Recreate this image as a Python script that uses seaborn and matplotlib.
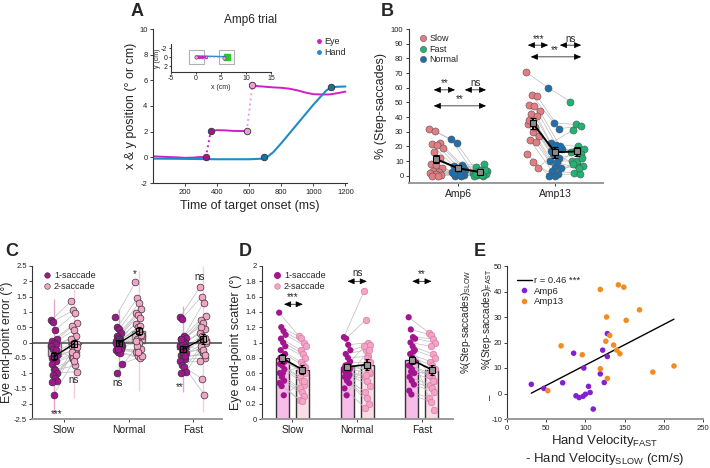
import matplotlib
matplotlib.use("Agg")
import matplotlib.pyplot as plt
from matplotlib.lines import Line2D
from matplotlib.patches import Rectangle
import numpy as np
import pandas as pd
import seaborn as sns

# ---------------- data ----------------
# A: one Amp6 trial (time in ms, position in deg / cm)
eye_t1 = [0, 50, 100, 150, 200, 250, 300, 330]
eye_y1 = [0.08, 0.05, 0.02, 0.0, -0.04, -0.02, 0.03, 0.0]
eye_t2 = [360, 400, 450, 500, 550, 585]
eye_y2 = [2.05, 2.12, 2.1, 2.06, 2.05, 2.05]
eye_t3 = [620, 650, 700, 750, 800, 850, 900, 950, 1000, 1050, 1100, 1150, 1200]
eye_y3 = [5.6, 5.55, 5.5, 5.45, 5.42, 5.35, 5.22, 5.05, 4.92, 4.9, 4.9, 5.0, 5.12]
hand_t = [0, 200, 400, 600, 690, 720, 750, 800, 900, 1000, 1080, 1110, 1150, 1200]
hand_y = [-0.1, -0.12, -0.15, -0.15, -0.1, 0.1, 0.4, 1.1, 2.6, 4.1, 5.2, 5.45, 5.5, 5.52]
hand_event_t = [690, 1110]
hand_event_y = [0.0, 5.45]

inset_eye_x = [0, 0.6, 1.2, 2.0]
inset_eye_y = [0, 0.05, 0.0, 0.05]
inset_jump_x = [2.0, 5.6]
inset_jump_y = [0.05, 0.1]
inset_hand_x = [0, 6]
inset_hand_y = [-0.25, -0.1]
inset_box_x = [0, 6]

# B: % step-saccades per subject
amp_groups = ["Amp6", "Amp13"]
slow6 = [32, 30.5, 22, 21.5, 21, 19, 16, 12, 8, 7.5, 5, 3, 2.5, 2, 1, 0.5, 0, 0]
normal6 = [25, 22, 7, 6.5, 5, 4, 3, 2, 1.5, 1, 0.5, 0, 0, 2.5, 4.5, 6, 1, 0.5]
fast6 = [2, 1, 8, 6, 4, 3.5, 3, 2.5, 2, 1.5, 1, 0.5, 0, 0, 3, 4, 1, 0.5]
slow13 = [70.5, 55, 54, 48, 47.5, 44, 42, 41, 35, 30, 27, 24, 23, 15, 9, 5, 38, 33]
normal13 = [60, 36, 32, 22, 21, 18, 15, 12, 10, 6, 5, 3, 1, 0, 0, 20, 17, 9]
fast13 = [50.5, 35, 34, 31, 20, 18, 17, 15, 10, 7, 6.5, 2, 1, 16, 10, 12, 8, 5]

# C: eye end-point error (deg)
conditions = ["Slow", "Normal", "Fast"]
err_slow1 = [0.72, 0.68, 0.4, 0.1, 0.05, 0.0, -0.05, -0.1, -0.2, -0.3, -0.4, -0.5,
             -0.55, -0.6, -0.7, -0.85, -0.9, -1.0, -1.05, -1.15, -1.25, -1.3, -1.7, -0.25]
err_slow2 = [1.35, 1.05, 0.95, 0.65, 0.55, 0.4, 0.2, 0.1, -0.5, 0.0, -0.05, -0.1,
             -0.2, -0.3, -0.45, -0.55, -0.75, -0.95, -0.5, -0.35, -0.15, -0.3, -0.6, -0.4]
err_norm1 = [0.82, 0.5, 0.45, 0.3, 0.2, 0.15, 0.1, 0.05, 0.0, -0.05, -0.1, -0.1,
             -0.15, -0.2, -0.25, -0.3, -0.35, -0.7, -1.0, 0.1, -0.05, 0.0, -0.2, 0.05]
err_norm2 = [1.97, 1.45, 1.3, 1.1, 0.95, 0.9, 0.8, 0.6, 0.5, 0.3, 0.2, 0.1,
             0.0, -0.2, -0.3, -0.45, -0.5, -0.45, -0.1, 0.4, 0.25, 0.05, -0.3, 0.55]
err_fast1 = [0.82, 0.78, 0.2, 0.15, 0.1, 0.05, 0.0, -0.1, -0.2, -0.3, -0.35, -0.4,
             -0.5, -0.55, -0.6, -0.75, -0.8, -0.95, -1.0, -0.05, -0.15, 0.1, -0.3, -0.45]
err_fast2 = [1.8, 1.5, 1.3, 0.85, 0.75, 0.65, 0.45, 0.3, 0.2, 0.1, 0.0, -0.2,
             -0.35, -0.5, -0.6, -1.2, -1.7, 0.05, -0.1, -0.3, 0.15, 0.5, -0.25, -0.4]

# D: eye end-point scatter (deg)
sc_slow1 = [1.39, 1.2, 1.15, 1.1, 1.05, 1.0, 0.95, 0.9, 0.6, 0.85, 0.8, 0.78,
            0.75, 0.72, 0.7, 0.65, 0.6, 0.55, 0.5, 0.47, 0.43, 0.31]
sc_slow2 = [1.08, 1.06, 1.0, 0.95, 0.9, 0.85, 0.8, 0.75, 0.7, 0.68, 0.65, 0.62,
            0.6, 0.55, 0.5, 0.45, 0.4, 0.35, 0.3, 0.25, 0.23, 0.5]
sc_norm1 = [1.07, 1.05, 0.97, 0.9, 0.85, 0.8, 0.75, 0.7, 0.68, 0.65, 0.62, 0.6,
            0.58, 0.55, 0.5, 0.47, 0.4, 0.31, 0.72, 0.66, 0.6, 0.55]
sc_norm2 = [1.67, 1.3, 1.0, 0.97, 0.9, 0.82, 0.75, 0.7, 0.65, 0.6, 0.55, 0.5,
            0.43, 0.35, 0.28, 0.2, 0.15, 0.8, 0.62, 0.95, 0.58, 0.9]
sc_fast1 = [1.33, 1.17, 1.07, 1.05, 1.0, 0.95, 0.9, 0.85, 0.8, 0.75, 0.7, 0.65,
            0.6, 0.55, 0.5, 0.45, 0.37, 0.32, 0.78, 0.7, 0.62, 0.88]
sc_fast2 = [1.13, 1.1, 1.05, 1.0, 0.95, 0.85, 0.8, 0.75, 0.7, 0.65, 0.6, 0.55,
            0.5, 0.45, 0.4, 0.35, 0.27, 0.22, 0.12, 0.58, 0.62, 0.5]

# E: hand velocity difference vs step-saccade difference
vel_amp6 = [31, 47, 71, 85, 88, 92, 97, 98, 100, 104, 106, 110, 119, 122, 124, 128, 128]
step_amp6 = [3.6, 2.0, 4.2, 15.8, -0.9, -1.6, -1.1, 10.0, -0.3, 2.8, 0.4, -6.1, 7.7, 17.0, 4.3, 14.5, 23.5]
vel_amp13 = [52, 69, 96, 119, 119, 126, 127, 128, 131, 136, 140, 142, 144, 149, 152, 169, 186, 213]
step_amp13 = [1.1, 18.7, 15.2, 9.7, 40.8, 20.5, 30.0, 5.9, 22.8, 19.0, 17.0, 42.6, 15.6, 41.7, 28.7, 32.8, 8.4, 10.8]

# ---------------- style ----------------
sns.set_style("ticks")
plt.rcParams["font.family"] = ["Liberation Sans", "DejaVu Sans"]
plt.rcParams["mathtext.default"] = "regular"
plt.rcParams["axes.unicode_minus"] = False

EYE = "#d21fc4"
EYE_LIGHT = "#f09ad8"
HAND = "#1f8cc8"
SLOW_C = "#e57c82"
NORMAL_C = "#1d6fad"
FAST_C = "#1fb472"
ONE_C = "#a3148f"
TWO_C = "#f4a5c6"
AMP6_C = "#8420d4"
AMP13_C = "#f28c1f"
LINE_GRAY = "#bdbdbd"

fig = plt.figure(figsize=(7.1, 4.68), dpi=100)


def add_ax(left, top, right, bottom):
    return fig.add_axes([left / 710, 1 - bottom / 468, (right - left) / 710, (bottom - top) / 468])


def style_ax(ax, gray_bottom=True):
    sns.despine(ax=ax)
    ax.spines["left"].set_linewidth(0.8)
    ax.spines["left"].set_color("#333333")
    if gray_bottom:
        ax.spines["bottom"].set_linewidth(1.4)
        ax.spines["bottom"].set_color("#9a9a9a")
    else:
        ax.spines["bottom"].set_linewidth(0.8)
        ax.spines["bottom"].set_color("#333333")
    ax.tick_params(labelsize=5.5, length=2.5, width=0.6, pad=1.5, colors="#222222")


def spread(n, width):
    # deterministic horizontal spread so paired points do not stack
    return width * (((np.arange(n) * 7) % n) / max(n - 1, 1) - 0.5) * 2


def dbl_arrow(ax, x1, x2, y):
    ax.annotate("", xy=(x2, y), xytext=(x1, y),
                arrowprops=dict(arrowstyle="<|-|>,head_length=0.7,head_width=0.3",
                                mutation_scale=6, color="k", lw=0.5, shrinkA=0, shrinkB=0))


def panel_letter(x, y, s):
    fig.text(x / 710, 1 - y / 468, s, fontsize=13, fontweight="bold", ha="center", va="center")


# ---------------- A ----------------
ax_a = add_ax(153, 29, 347, 183)
sns.lineplot(x=eye_t1, y=eye_y1, ax=ax_a, color=EYE, lw=1.4)
sns.lineplot(x=eye_t2, y=eye_y2, ax=ax_a, color=EYE, lw=1.4)
sns.lineplot(x=eye_t3, y=eye_y3, ax=ax_a, color=EYE, lw=1.4)
ax_a.plot([eye_t1[-1], eye_t2[0]], [eye_y1[-1], eye_y2[0]], ls=":", color=EYE, lw=1.4)
ax_a.plot([eye_t2[-1], eye_t3[0]], [eye_y2[-1], eye_y3[0]], ls=":", color=EYE_LIGHT, lw=1.4)
sns.lineplot(x=hand_t, y=hand_y, ax=ax_a, color=HAND, lw=1.5)
ax_a.scatter([eye_t1[-1], eye_t2[0]], [eye_y1[-1], eye_y2[0]], s=22, color="#a3148f",
             edgecolor="#333333", lw=0.6, zorder=5)
ax_a.scatter([eye_t2[-1], eye_t3[0]], [eye_y2[-1], eye_y3[0]], s=22, color=EYE_LIGHT,
             edgecolor="#333333", lw=0.6, zorder=5)
ax_a.scatter(hand_event_t, hand_event_y, s=22, color="#1a6fa8", edgecolor="#333333", lw=0.6, zorder=5)
ax_a.set_xlim(0, 1210)
ax_a.set_ylim(-2, 10)
ax_a.set_xticks(range(200, 1201, 200))
ax_a.set_yticks(range(-2, 11, 2))
ax_a.set_xlabel("Time of target onset (ms)", fontsize=9, labelpad=3)
ax_a.set_ylabel("x & y position (° or cm)", fontsize=9, labelpad=1.5)
ax_a.set_title("Amp6 trial", fontsize=8.5, pad=4)
style_ax(ax_a, gray_bottom=False)
leg_a = [Line2D([], [], marker="o", ls="", color=EYE, ms=2.5, label="Eye"),
         Line2D([], [], marker="o", ls="", color=HAND, ms=2.5, label="Hand")]
ax_a.legend(handles=leg_a, loc="upper right", bbox_to_anchor=(1.02, 0.98), frameon=False,
            fontsize=6.5, handletextpad=0.1, labelspacing=0.2, borderpad=0.1, handlelength=0.8)

ax_in = add_ax(171, 44, 271, 72)
for bx in inset_box_x:
    ax_in.add_patch(Rectangle((bx - 1.5, -1.5), 3, 3, fill=False, ec="#b0b0b0", lw=0.8))
ax_in.add_patch(Rectangle((inset_box_x[1] - 0.5, -0.6), 1.2, 1.2, color="#22cc22"))
ax_in.plot(inset_hand_x, inset_hand_y, color=HAND, lw=1.0)
ax_in.plot(inset_eye_x, inset_eye_y, color=EYE, lw=1.0, marker="o", ms=1.5)
ax_in.plot(inset_jump_x, inset_jump_y, color=EYE_LIGHT, lw=1.0, ls=":")
ax_in.scatter([inset_eye_x[0], inset_jump_x[-1]], [inset_eye_y[0], inset_jump_y[-1]],
              s=6, color=EYE_LIGHT, edgecolor="#555555", lw=0.4, zorder=5)
ax_in.set_xlim(-5, 15)
ax_in.set_ylim(3.3, -2.9)
ax_in.set_xticks([-5, 0, 5, 10, 15])
ax_in.set_yticks([-2, 0, 2])
ax_in.set_xlabel("x (cm)", fontsize=5, labelpad=1)
ax_in.set_ylabel("y (cm)", fontsize=5, labelpad=0)
style_ax(ax_in, gray_bottom=False)
ax_in.tick_params(labelsize=5, length=1.5, pad=1)
ax_in.patch.set_alpha(0)

# ---------------- B ----------------
ax_b = add_ax(409, 29, 603, 183)
b_sets = [(slow6, normal6, fast6), (slow13, normal13, fast13)]
b_off = [-0.227, 0.0, 0.227]
b_cols = [SLOW_C, NORMAL_C, FAST_C]
for gi, sets in enumerate(b_sets):
    n = len(sets[0])
    xs = [gi + off + spread(n, 0.07) for off in b_off]
    for i in range(n):
        ax_b.plot([xs[k][i] for k in range(3)], [sets[k][i] for k in range(3)],
                  color=LINE_GRAY, lw=0.5, zorder=1)
    for k in range(3):
        sns.scatterplot(x=xs[k], y=sets[k], ax=ax_b, color=b_cols[k], s=26,
                        edgecolor="#555555", linewidth=0.4, zorder=3, legend=False)
    means = [np.mean(v) for v in sets]
    sems = [np.std(v, ddof=1) / np.sqrt(len(v)) for v in sets]
    ax_b.errorbar([gi + off for off in b_off], means, yerr=sems, color="k", lw=1.4,
                  marker="s", ms=5, mfc="#8c8c8c", mec="k", mew=0.8, capsize=2, zorder=4)
ax_b.set_xlim(-0.505, 1.495)
ax_b.set_ylim(-5, 100)
ax_b.set_yticks(range(0, 101, 10))
ax_b.set_xticks([0, 1])
ax_b.set_xticklabels(amp_groups)
ax_b.set_ylabel("% (Step-saccades)", fontsize=9, labelpad=3)
style_ax(ax_b)
ax_b.tick_params(axis="x", labelsize=7.5)
# significance
dbl_arrow(ax_b, -0.25, -0.03, 58.5)
dbl_arrow(ax_b, 0.07, 0.29, 58.5)
dbl_arrow(ax_b, -0.25, 0.29, 47.6)
ax_b.text(-0.14, 59.5, "**", fontsize=7, ha="center", va="bottom")
ax_b.text(0.18, 59.5, "ns", fontsize=7, ha="center", va="bottom")
ax_b.text(0.02, 48.6, "**", fontsize=7, ha="center", va="bottom")
dbl_arrow(ax_b, 0.72, 0.93, 89)
dbl_arrow(ax_b, 1.05, 1.27, 89)
dbl_arrow(ax_b, 0.75, 1.27, 81)
ax_b.text(0.83, 90, "***", fontsize=7, ha="center", va="bottom")
ax_b.text(1.16, 90, "ns", fontsize=7, ha="center", va="bottom")
ax_b.text(1.0, 82, "**", fontsize=7, ha="center", va="bottom")
leg_b = [Line2D([], [], marker="o", ls="", color=c, mec="#555555", mew=0.4, ms=4.5, label=l)
         for c, l in zip([SLOW_C, FAST_C, NORMAL_C], ["Slow", "Fast", "Normal"])]
ax_b.legend(handles=leg_b, loc="upper left", bbox_to_anchor=(0.02, 1.0), frameon=False,
            fontsize=6.5, handletextpad=0.2, labelspacing=0.15, borderpad=0.1, handlelength=1.0)

# ---------------- C ----------------
ax_c = add_ax(32, 266, 222, 419)
c_pairs = [(err_slow1, err_slow2), (err_norm1, err_norm2), (err_fast1, err_fast2)]
pair_off = [-0.155, 0.155]
for ci, (one, two) in enumerate(c_pairs):
    n = len(one)
    xs = [ci + off + spread(n, 0.05) for off in pair_off]
    vals = [one, two]
    means = [np.mean(v) for v in vals]
    sds = [np.std(v, ddof=1) for v in vals]
    sems = [s / np.sqrt(n) for s in sds]
    for k in range(2):
        ax_c.bar(ci + pair_off[k], means[k], width=0.2, color=["#f1b3dd", "#f6c9de"][k],
                 edgecolor="#6a6a6a", lw=1.0, zorder=1)
        ax_c.vlines(ci + pair_off[k], means[k] - 3 * sds[k], means[k] + 3 * sds[k],
                    color=["#c23aa8", "#f08fbf"][k], lw=1.0, alpha=0.45, zorder=1)
    for i in range(n):
        ax_c.plot([xs[0][i], xs[1][i]], [one[i], two[i]], color=LINE_GRAY, lw=0.5, zorder=2)
    sns.scatterplot(x=xs[0], y=one, ax=ax_c, color=ONE_C, s=24, edgecolor="#333333",
                    linewidth=0.5, zorder=3, legend=False)
    sns.scatterplot(x=xs[1], y=two, ax=ax_c, color=TWO_C, s=24, edgecolor="#333333",
                    linewidth=0.5, zorder=3, legend=False)
    ax_c.errorbar([ci + o for o in pair_off], means, yerr=sems, color="k", lw=1.0,
                  marker="s", ms=4.5, mfc="none", mec="k", mew=0.8, capsize=1.5, zorder=4)
ax_c.axhline(0, color="#555555", lw=1.2, zorder=2.5)
ax_c.set_xlim(-0.5, 2.45)
ax_c.set_ylim(-2.5, 2.5)
ax_c.set_yticks(np.arange(-2.5, 2.51, 0.5))
ax_c.set_yticklabels(["-2.5", "-2", "-1.5", "-1", "-0.5", "0", "0.5", "1", "1.5", "2", "2.5"])
ax_c.set_xticks([0, 1, 2])
ax_c.set_xticklabels(conditions)
ax_c.set_ylabel("Eye end-point error (°)", fontsize=8.8, labelpad=0.5)
style_ax(ax_c)
ax_c.tick_params(axis="x", labelsize=7.5)
ax_c.tick_params(axis="y", pad=1)
ax_c.text(-0.11, -2.35, "***", fontsize=7, ha="center", va="center")
ax_c.text(0.15, -1.22, "ns", fontsize=7, ha="center", va="center")
ax_c.text(0.83, -1.32, "ns", fontsize=7, ha="center", va="center")
ax_c.text(1.1, 2.22, "*", fontsize=7, ha="center", va="center")
ax_c.text(2.1, 2.14, "ns", fontsize=7, ha="center", va="center")
ax_c.text(1.8, -1.45, "**", fontsize=7, ha="center", va="center")
leg_cd = [Line2D([], [], marker="o", ls="", color=ONE_C, mec="#333333", mew=0.4, ms=4, label="1-saccade"),
          Line2D([], [], marker="o", ls="", color=TWO_C, mec="#333333", mew=0.4, ms=4, label="2-saccade")]
ax_c.legend(handles=leg_cd, loc="upper left", bbox_to_anchor=(0.02, 1.0), frameon=False,
            fontsize=6.5, handletextpad=0.2, labelspacing=0.15, borderpad=0.1, handlelength=1.2)

# ---------------- D ----------------
ax_d = add_ax(262, 266, 453, 419)
d_pairs = [(sc_slow1, sc_slow2), (sc_norm1, sc_norm2), (sc_fast1, sc_fast2)]
for ci, (one, two) in enumerate(d_pairs):
    n = len(one)
    xs = [ci + off + spread(n, 0.05) for off in pair_off]
    vals = [one, two]
    means = [np.mean(v) for v in vals]
    sems = [np.std(v, ddof=1) / np.sqrt(n) for v in vals]
    for k in range(2):
        ax_d.bar(ci + pair_off[k], means[k], width=0.2, color=["#f6bde8", "#fbdde8"][k],
                 edgecolor="#333333", lw=1.0, zorder=1)
    for i in range(n):
        ax_d.plot([xs[0][i], xs[1][i]], [one[i], two[i]], color=LINE_GRAY, lw=0.5, zorder=2)
    sns.scatterplot(x=xs[0], y=one, ax=ax_d, color=ONE_C, s=20, edgecolor="none",
                    zorder=3, legend=False)
    sns.scatterplot(x=xs[1], y=two, ax=ax_d, color=TWO_C, s=22, edgecolor="#d77aa6",
                    linewidth=0.5, zorder=3, legend=False)
    ax_d.errorbar([ci + o for o in pair_off], means, yerr=sems, color="k", lw=1.2,
                  marker="s", ms=4.5, mfc="#9a9a9a", mec="k", mew=0.8, capsize=1.5, zorder=4)
ax_d.set_xlim(-0.47, 2.48)
ax_d.set_ylim(0, 2)
ax_d.set_yticks(np.arange(0, 2.01, 0.2))
ax_d.set_yticklabels(["0", "0.2", "0.4", "0.6", "0.8", "1", "1.2", "1.4", "1.6", "1.8", "2"])
ax_d.set_xticks([0, 1, 2])
ax_d.set_xticklabels(conditions)
ax_d.set_ylabel("Eye end-point scatter (°)", fontsize=9, labelpad=3)
style_ax(ax_d)
ax_d.tick_params(axis="x", labelsize=7.5)
dbl_arrow(ax_d, -0.13, 0.16, 1.5)
dbl_arrow(ax_d, 0.85, 1.15, 1.8)
dbl_arrow(ax_d, 1.85, 2.15, 1.8)
ax_d.text(0.0, 1.53, "***", fontsize=7, ha="center", va="bottom")
ax_d.text(1.0, 1.84, "ns", fontsize=7, ha="center", va="bottom")
ax_d.text(2.0, 1.83, "**", fontsize=7, ha="center", va="bottom")
ax_d.legend(handles=[Line2D([], [], marker="o", ls="", color=ONE_C, ms=4, label="1-saccade"),
                     Line2D([], [], marker="o", ls="", color=TWO_C, mec="#d77aa6", mew=0.5, ms=4,
                            label="2-saccade")],
            loc="upper left", bbox_to_anchor=(0.02, 1.0), frameon=False, fontsize=6.5,
            handletextpad=0.2, labelspacing=0.15, borderpad=0.1, handlelength=1.2)

# ---------------- E ----------------
ax_e = add_ax(507, 266, 703, 419)
df_e = pd.DataFrame({
    "vel": vel_amp6 + vel_amp13,
    "step": step_amp6 + step_amp13,
    "amp": ["Amp6"] * len(vel_amp6) + ["Amp13"] * len(vel_amp13),
})
sns.regplot(data=df_e, x="vel", y="step", ax=ax_e, scatter=False, ci=None, truncate=True,
            line_kws=dict(color="k", lw=1.0))
sns.scatterplot(data=df_e, x="vel", y="step", hue="amp", palette={"Amp6": AMP6_C, "Amp13": AMP13_C},
                ax=ax_e, s=16, edgecolor="none", legend=False, zorder=3)
ax_e.set_xlim(0, 250)
ax_e.set_ylim(-10, 50)
ax_e.set_xticks(range(0, 251, 50))
ax_e.set_yticks(range(-10, 51, 10))
ax_e.set_xlabel("Hand Velocity$_{FAST}$\n- Hand Velocity$_{SLOW}$ (cm/s)", fontsize=9.5,
                labelpad=1, linespacing=1.15)
ax_e.set_ylabel("")
style_ax(ax_e)
ax_e.tick_params(axis="y", pad=1)
ax_e.text(-0.208, 0.633, "%(Step-saccades)$_{SLOW}$", transform=ax_e.transAxes, rotation=90,
          fontsize=7.2, ha="center", va="center")
ax_e.text(-0.10, 0.652, "%(Step-saccades)$_{FAST}$", transform=ax_e.transAxes, rotation=90,
          fontsize=7.2, ha="center", va="center")
ax_e.text(-0.085, 0.143, "\u2013", transform=ax_e.transAxes, rotation=90,
          fontsize=7.2, ha="center", va="center")
leg_e = [Line2D([], [], color="k", lw=1.0, label="r = 0.46 ***"),
         Line2D([], [], marker="o", ls="", color=AMP6_C, ms=3, label="Amp6"),
         Line2D([], [], marker="o", ls="", color=AMP13_C, ms=3, label="Amp13")]
ax_e.legend(handles=leg_e, loc="upper left", bbox_to_anchor=(0.02, 0.97), frameon=False,
            fontsize=6.8, handletextpad=0.2, labelspacing=0.15, borderpad=0.1, handlelength=1.6)

# panel letters
panel_letter(137, 12, "A")
panel_letter(387, 12, "B")
panel_letter(12, 252, "C")
panel_letter(245, 252, "D")
panel_letter(480, 252, "E")

fig.savefig("out.png", dpi=100)
